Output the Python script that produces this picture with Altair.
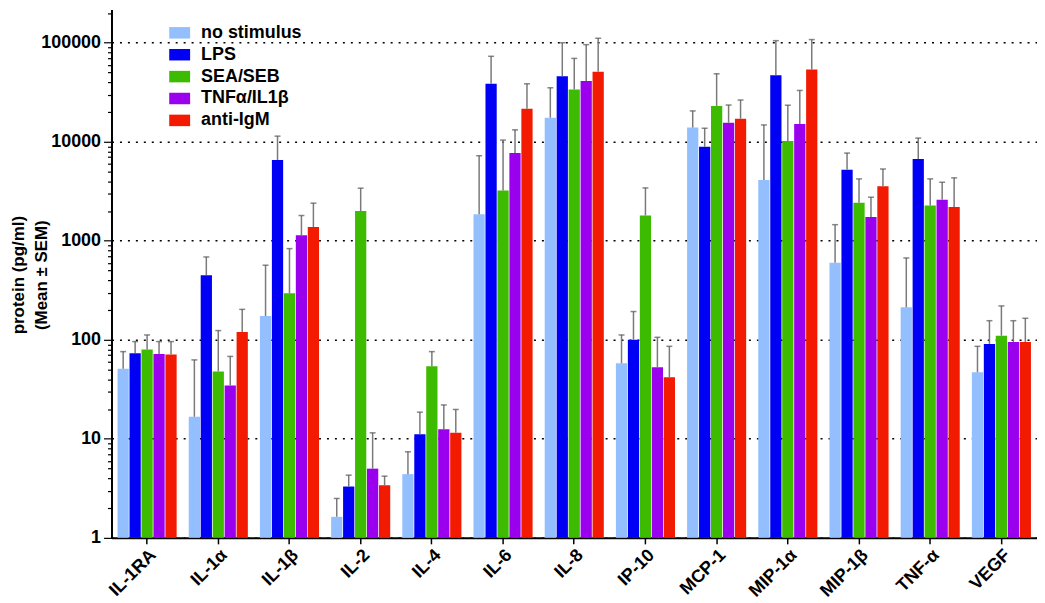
import altair as alt
import pandas as pd

cytokines = ["IL-1RA", "IL-1α", "IL-1β", "IL-2", "IL-4", "IL-6", "IL-8", "IP-10",
             "MCP-1", "MIP-1α", "MIP-1β", "TNF-α", "VEGF"]
conditions = ["no stimulus", "LPS", "SEA/SEB", "TNFα/IL1β", "anti-IgM"]
colors = ["#93bfff", "#0000f5", "#3dbb00", "#9b00ee", "#f21a00"]

# means (pg/ml)
no_stimulus_mean = [51, 16.7, 174, 1.63, 4.4, 1850, 17500, 58, 13900, 4100, 600, 213, 47]
lps_mean = [73, 450, 6550, 3.3, 11.1, 38500, 46000, 100, 8900, 47000, 5230, 6700, 91]
sea_seb_mean = [80, 48, 295, 2000, 54, 3220, 33800, 1800, 23000, 10200, 2420, 2275, 110]
tnf_il1_mean = [72, 34.5, 1140, 5.0, 12.5, 7700, 41000, 53, 15600, 15100, 1740, 2600, 95]
anti_igm_mean = [71, 120, 1380, 3.4, 11.5, 21600, 50900, 42, 17100, 53700, 3550, 2190, 95]

# SEM (pg/ml)
no_stimulus_sem = [25, 46, 393, 0.87, 3.0, 5380, 17600, 54, 6600, 10700, 855, 458, 39]
lps_sem = [23, 237, 4850, 1.0, 7.5, 34500, 54000, 93, 4800, 58000, 2460, 4200, 65]
sea_seb_sem = [32, 76, 539, 1400, 22, 7180, 35700, 1620, 25600, 13200, 1800, 1945, 110]
tnf_il1_sem = [24, 33.5, 660, 6.5, 9.5, 5500, 54700, 53, 7900, 17900, 1015, 1300, 61]
anti_igm_sem = [25, 83, 1020, 0.8, 8.3, 16900, 60100, 44, 9300, 54000, 1760, 2130, 70]

means = dict(zip(conditions, [no_stimulus_mean, lps_mean, sea_seb_mean, tnf_il1_mean, anti_igm_mean]))
sems = dict(zip(conditions, [no_stimulus_sem, lps_sem, sea_seb_sem, tnf_il1_sem, anti_igm_sem]))

rows = []
for cond in conditions:
    for i, cyt in enumerate(cytokines):
        m = means[cond][i]
        rows.append({"cytokine": cyt, "condition": cond, "mean": m, "upper": m + sems[cond][i]})
df = pd.DataFrame(rows)

tick_values = [k * 10 ** e for e in range(0, 6) for k in range(1, 10)] + [200000]
dec_test = "indexof([1, 10, 100, 1000, 10000, 100000], datum.value) >= 0"
FONT = "Liberation Sans"
H = 531

x_enc = alt.X(
    "cytokine:N", sort=cytokines,
    scale=alt.Scale(paddingInner=0.17, paddingOuter=0.085),
    axis=alt.Axis(title=None, labelAngle=-45, labelFont=FONT, labelFontWeight="bold",
                  labelFontSize=18, labelColor="black", tickColor="black", tickSize=6,
                  tickWidth=1.5, domainColor="black", domainWidth=2, labelPadding=2,
                  grid=False),
)
xo_enc = alt.XOffset("condition:N", sort=conditions, scale=alt.Scale(paddingInner=0.06))
y_scale = alt.Scale(type="log", domain=[1, 217000])
y_axis = alt.Axis(
    title=["protein (pg/ml)", "(Mean ± SEM)"], values=tick_values, format="d",
    labelExpr=f"{dec_test} ? datum.label : ''",
    tickSize={"condition": {"test": dec_test, "value": 8}, "value": 4},
    gridOpacity={"condition": {"test": dec_test, "value": 1}, "value": 0},
    grid=True, gridColor="black", gridDash=[2, 6], gridWidth=1.5,
    domainColor="black", domainWidth=2, tickColor="black", tickWidth=1.2,
    labelFont=FONT, labelFontSize=18, labelFontWeight="bold", labelColor="black",
    labelPadding=3, titleFont=FONT, titleFontSize=17, titleFontWeight="bold",
    titleColor="black", titleLineHeight=23, titleX=-93, titleY=H / 2 + 1,
    titleBaseline="middle", titleAlign="center", titleAngle=270,
)

bars = alt.Chart(df).mark_bar().encode(
    x=x_enc, xOffset=xo_enc,
    y=alt.Y("mean:Q", scale=y_scale, axis=y_axis),
    y2=alt.datum(1),
    color=alt.Color(
        "condition:N", sort=conditions,
        scale=alt.Scale(domain=conditions, range=colors),
        legend=alt.Legend(title=None, orient="none", legendX=58, legendY=13,
                          symbolType="M-1,-0.55L1,-0.55L1,0.55L-1,0.55Z", symbolSize=441,
                          symbolStrokeWidth=0, labelFont=FONT, labelFontWeight="bold",
                          labelFontSize=18, labelColor="black", labelOffset=11,
                          rowPadding=2, padding=0),
    ),
)

err = alt.Chart(df).mark_rule(color="#7a7a7a", strokeWidth=1.5).encode(
    x=x_enc, xOffset=xo_enc,
    y=alt.Y("mean:Q", scale=y_scale, axis=y_axis),
    y2="upper:Q",
)
caps = alt.Chart(df).mark_tick(color="#555555", thickness=1.5, size=6).encode(
    x=x_enc, xOffset=xo_enc,
    y=alt.Y("upper:Q", scale=y_scale, axis=y_axis),
)

chart = alt.layer(bars, err, caps).properties(
    width=930, height=H,
    padding={"left": 2, "top": 0, "right": 0, "bottom": 0},
).configure_view(stroke=None)

chart.save("out.html", embed_options={"renderer": "svg", "actions": False})
